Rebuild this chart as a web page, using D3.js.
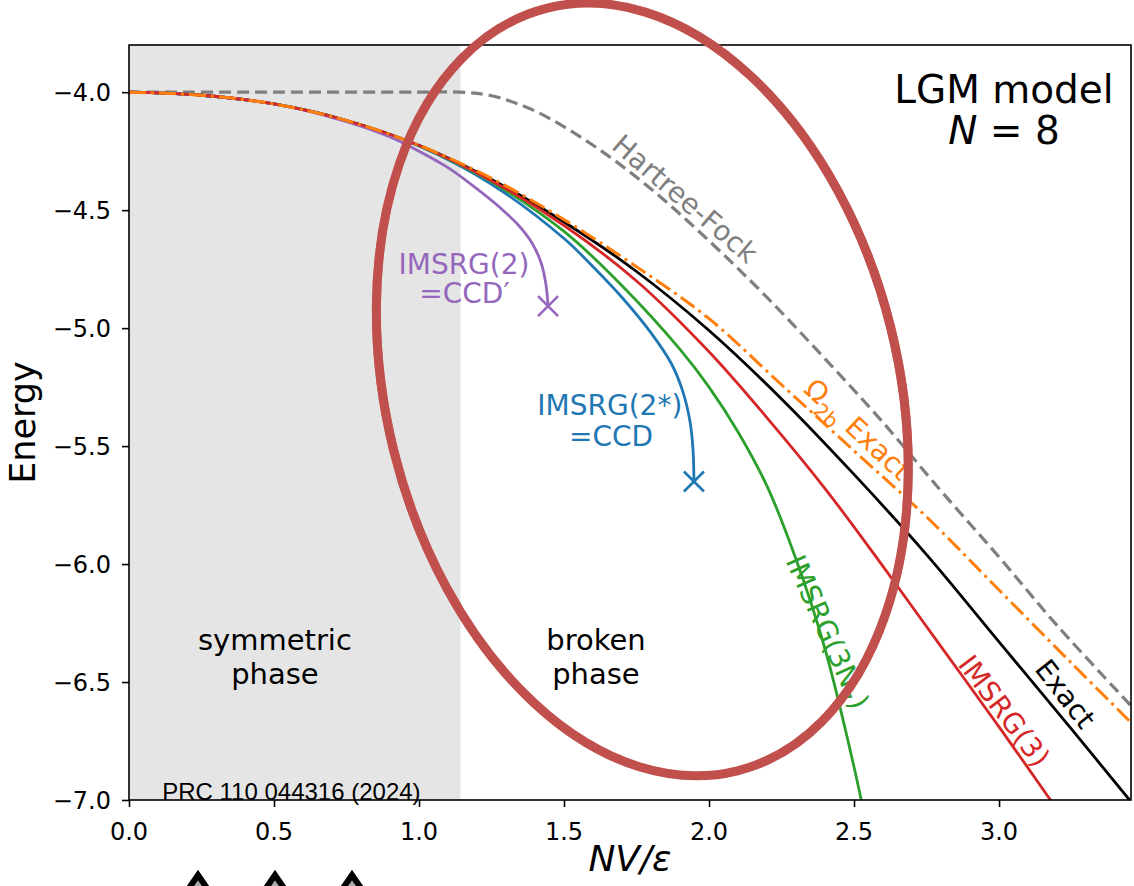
<!DOCTYPE html>
<html lang="en">
<head>
<meta charset="UTF-8">
<title>LGM model energies</title>
<style>
  body { margin: 0; background: #fff; }
  svg { display: block; font-family: "DejaVu Sans", sans-serif; }
  .tick line { stroke: #000; stroke-width: 1.6px; }
  .ann { font-size: 28px; }
  .ticklabel { font-size: 24px; font-family: "DejaVu Sans", sans-serif; fill: #000; }
</style>
</head>
<body>
<svg width="1134" height="886"></svg>
<script src="https://cdn.jsdelivr.net/npm/d3@7/dist/d3.min.js"></script>
<script>
// values: [NV/eps, energy]
const hartreeFock = [[0,-4.0],[0.5,-4.0],[1.0,-4.0],[1.143,-4.0],[1.25,-4.015],[1.4,-4.08],[1.6,-4.225],[1.8,-4.41],[2.0,-4.63],[2.2,-4.87],[2.4,-5.13],[2.6,-5.40],[2.8,-5.69],[3.0,-5.97],[3.2,-6.26],[3.47,-6.62]];
const exact = [[0,-4.0],[0.25,-4.013],[0.5,-4.05],[0.75,-4.12],[1.0,-4.225],[1.25,-4.37],[1.5,-4.55],[1.75,-4.76],[2.0,-5.01],[2.25,-5.30],[2.5,-5.62],[2.75,-5.96],[3.0,-6.33],[3.25,-6.70],[3.47,-7.03]];
const omega2bExact = [[0,-4.0],[0.25,-4.013],[0.5,-4.05],[0.75,-4.12],[1.0,-4.225],[1.25,-4.365],[1.5,-4.54],[1.75,-4.74],[2.0,-4.96],[2.25,-5.24],[2.5,-5.52],[2.75,-5.80],[3.0,-6.11],[3.25,-6.42],[3.47,-6.69]];
const imsrg3 = [[0,-4.0],[0.25,-4.013],[0.5,-4.05],[0.75,-4.12],[1.0,-4.226],[1.25,-4.375],[1.5,-4.565],[1.75,-4.80],[2.0,-5.10],[2.2,-5.38],[2.4,-5.68],[2.6,-6.01],[2.8,-6.35],[3.0,-6.69],[3.2,-7.04]];
const imsrg3N7 = [[0,-4.0],[0.25,-4.013],[0.5,-4.05],[0.75,-4.12],[1.0,-4.227],[1.25,-4.38],[1.5,-4.59],[1.7,-4.82],[1.9,-5.09],[2.0,-5.25],[2.1,-5.44],[2.2,-5.67],[2.3,-5.98],[2.4,-6.36],[2.5,-6.86],[2.55,-7.15]];
const imsrg2star = [[0,-4.0],[0.25,-4.013],[0.5,-4.05],[0.75,-4.12],[1.0,-4.228],[1.25,-4.39],[1.5,-4.62],[1.6,-4.74],[1.7,-4.87],[1.8,-5.02],[1.87,-5.15],[1.91,-5.27],[1.935,-5.40],[1.945,-5.52],[1.948,-5.65]];
const imsrg2 = [[0,-4.0],[0.25,-4.013],[0.5,-4.05],[0.75,-4.125],[0.9,-4.19],[1.0,-4.25],[1.1,-4.32],[1.2,-4.41],[1.28,-4.49],[1.34,-4.56],[1.39,-4.64],[1.42,-4.72],[1.437,-4.81],[1.445,-4.907]];

const xTicks = [0, 0.5, 1.0, 1.5, 2.0, 2.5, 3.0];
const yTicks = [-7.0, -6.5, -6.0, -5.5, -5.0, -4.5, -4.0];
const symmetricEdge = 1.143;

const svg = d3.select("svg");
const x = d3.scaleLinear().domain([0, 3.455]).range([129, 1131]);
const y = d3.scaleLinear().domain([-7, -3.8]).range([800, 45]);

svg.append("defs").append("clipPath").attr("id", "plot")
  .append("rect")
  .attr("x", x(0)).attr("y", y(-3.8))
  .attr("width", x(3.455) - x(0)).attr("height", y(-7) - y(-3.8));

// symmetric phase shading
svg.append("rect")
  .attr("x", x(0)).attr("y", y(-3.8))
  .attr("width", x(symmetricEdge) - x(0))
  .attr("height", y(-7) - y(-3.8))
  .attr("fill", "#e5e5e5");

// axes: d3 draws the ticks, labels are set in DejaVu with a real minus sign
const fmt = d => d3.format(".1f")(d).replace(/^[-\u2212]/, "\u2212");
svg.append("g")
  .attr("transform", `translate(0,${y(-7)})`)
  .call(d3.axisBottom(x).tickValues(xTicks).tickFormat("").tickSize(7))
  .call(g => g.select(".domain").remove());
svg.append("g")
  .attr("transform", `translate(${x(0)},0)`)
  .call(d3.axisLeft(y).tickValues(yTicks).tickFormat("").tickSize(7))
  .call(g => g.select(".domain").remove());

svg.append("g").selectAll("text")
  .data(xTicks).join("text")
  .attr("class", "ticklabel")
  .attr("x", d => x(d)).attr("y", y(-7) + 40)
  .attr("text-anchor", "middle")
  .text(fmt);
svg.append("g").selectAll("text")
  .data(yTicks).join("text")
  .attr("class", "ticklabel")
  .attr("x", x(0) - 18).attr("y", d => y(d))
  .attr("dy", "0.36em")
  .attr("text-anchor", "end")
  .text(fmt);

// curves
const line = d3.line().x(d => x(d[0])).y(d => y(d[1])).curve(d3.curveCatmullRom.alpha(0.5));
const series = [
  { data: hartreeFock, color: "#7f7f7f", dash: "12,6", width: 3.2 },
  { data: exact, color: "#000000", dash: null, width: 2.8 },
  { data: imsrg2star, color: "#1f77b4", dash: null, width: 2.8 },
  { data: imsrg3N7, color: "#2ca02c", dash: null, width: 2.8 },
  { data: imsrg2, color: "#9467bd", dash: null, width: 2.8 },
  { data: imsrg3, color: "#d62728", dash: null, width: 2.8 },
  { data: omega2bExact, color: "#ff7f0e", dash: "17,5,3,5", width: 3 }
];
const plot = svg.append("g").attr("clip-path", "url(#plot)");
series.forEach(s => {
  plot.append("path")
    .attr("d", line(s.data))
    .attr("fill", "none")
    .attr("stroke", s.color)
    .attr("stroke-width", s.width)
    .attr("stroke-dasharray", s.dash);
});

// x markers where the flows break down
[[imsrg2, "#9467bd"], [imsrg2star, "#1f77b4"]].forEach(([d, c]) => {
  const p = d[d.length - 1];
  const px = x(p[0]), py = y(p[1]);
  svg.append("path")
    .attr("d", `M${px-10},${py-10}L${px+10},${py+10}M${px-10},${py+10}L${px+10},${py-10}`)
    .attr("stroke", c).attr("stroke-width", 2.6).attr("fill", "none");
});

// frame
svg.append("rect")
  .attr("x", x(0)).attr("y", y(-3.8))
  .attr("width", x(3.455) - x(0)).attr("height", y(-7) - y(-3.8))
  .attr("fill", "none").attr("stroke", "#000").attr("stroke-width", 1.6);

// labels
function txt(xv, yv, str, opts = {}) {
  const t = svg.append("text")
    .attr("class", "ann")
    .attr("text-anchor", "middle")
    .attr("dominant-baseline", "central")
    .attr("fill", opts.color || "#000")
    .attr("transform", `translate(${x(xv)},${y(yv)}) rotate(${opts.rot || 0})`)
    .text(str);
  if (opts.size) t.style("font-size", opts.size + "px");
  if (opts.font) t.style("font-family", opts.font);
  return t;
}

txt(3.017, -3.987, "LGM model", { size: 39 });
const n8 = txt(3.017, -4.161, "", { size: 39 });
n8.append("tspan").attr("font-style", "italic").text("N");
n8.append("tspan").text(" = 8");

txt(1.917, -4.453, "Hartree-Fock", { color: "#7f7f7f", rot: 40.5 });
txt(1.155, -4.73, "IMSRG(2)", { color: "#9467bd" });
txt(1.157, -4.855, "=CCD\u2032", { color: "#9467bd" });
txt(1.658, -5.33, "IMSRG(2*)", { color: "#1f77b4" });
txt(1.662, -5.46, "=CCD", { color: "#1f77b4" });

const om = txt(2.514, -5.428, "", { color: "#ff7f0e", rot: 43 });
om.append("tspan").text("\u03A9");
om.append("tspan").attr("baseline-shift", "sub").style("font-size", "20px").text("2b");
om.append("tspan").text(" Exact");

txt(3.228, -6.551, "Exact", { rot: 52 });
txt(3.017, -6.623, "IMSRG(3)", { color: "#d62728", rot: 53 });
const g3 = txt(2.41, -6.288, "", { color: "#2ca02c", rot: 66 });
g3.append("tspan").text("IMSRG(3N");
g3.append("tspan").attr("baseline-shift", "sub").style("font-size", "20px").text("7");
g3.append("tspan").text(")");

txt(0.503, -6.32, "symmetric", { size: 29 });
txt(0.503, -6.465, "phase", { size: 29 });
txt(1.61, -6.32, "broken", { size: 29 });
txt(1.61, -6.465, "phase", { size: 29 });
txt(0.56, -6.966, "PRC 110 044316 (2024)", { size: 24, font: "'Liberation Sans', Arial, sans-serif" });

// axis titles
svg.append("text")
  .attr("x", (x(0) + x(3.455)) / 2).attr("y", 871)
  .attr("text-anchor", "middle")
  .style("font-size", "36px").style("font-style", "italic")
  .text("NV/\u03B5");
svg.append("text")
  .attr("transform", `translate(35,${(y(-7) + y(-3.8)) / 2}) rotate(-90)`)
  .attr("text-anchor", "middle")
  .style("font-size", "35px")
  .text("Energy");

// hand-drawn circle overlay
const ell = { cx: x(1.77), cy: y(-5.26), rx: 256, ry: 393 };
[[0, 9, 1], [3, 3, 0.8], [-3, 3, 0.8]].forEach(([dr, w, o]) => {
  svg.append("ellipse")
    .attr("cx", ell.cx).attr("cy", ell.cy)
    .attr("rx", ell.rx + dr).attr("ry", ell.ry + dr * 0.6)
    .attr("transform", `rotate(-14,${ell.cx},${ell.cy})`)
    .attr("fill", "none")
    .attr("stroke", "#c0504d")
    .attr("stroke-width", w)
    .attr("opacity", o);
});

// arrow heads at the bottom edge
[198, 275, 352].forEach(cx => {
  svg.append("path")
    .attr("d", `M${cx-11},892L${cx},876L${cx+11},892Z`)
    .attr("fill", "#aaa");
  svg.append("path")
    .attr("d", `M${cx-13},894L${cx},875L${cx+13},894`)
    .attr("fill", "none").attr("stroke", "#000").attr("stroke-width", 6);
});
</script>
</body>
</html>
